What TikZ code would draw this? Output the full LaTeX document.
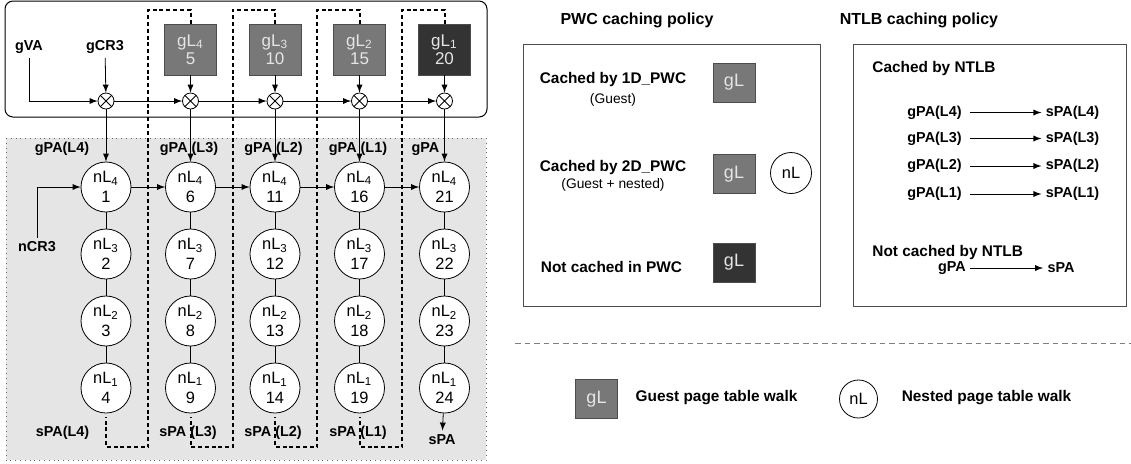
\documentclass[tikz,border=0pt]{standalone}
\usepackage{fontspec}
\setmainfont{Liberation Sans}
\definecolor{regionfill}{gray}{0.9}
\definecolor{gfill}{gray}{0.47}
\definecolor{gdark}{gray}{0.2}
\definecolor{gtext}{gray}{0.9}
\definecolor{panelline}{gray}{0.3}
\begin{document}
\begin{tikzpicture}[x=0.5pt, y=-0.5pt]
	    \tikzset{>=latex}
	    \tikzset{
	      nlev/.style={circle, draw, fill=white, minimum size=25pt, inner sep=0pt, align=center, font=\fontsize{8.2}{10}\selectfont},
	      glev/.style={draw=black!70, fill=gfill, text=gtext, minimum width=26pt, minimum height=25.5pt, inner sep=0pt, align=center, font=\fontsize{8.5}{9.2}\selectfont},
	      gkey/.style={glev, minimum width=21pt, minimum height=19.5pt, font=\fontsize{9}{9}\selectfont},
	      mult/.style={circle, draw, fill=white, minimum size=8pt, inner sep=0pt,
	        path picture={\draw (path picture bounding box.north west) -- (path picture bounding box.south east)
	                            (path picture bounding box.north east) -- (path picture bounding box.south west);}},
	      lbl/.style={font=\bfseries\fontsize{7.2}{8}\selectfont, inner sep=2pt},
	      key/.style={font=\bfseries\fontsize{7.7}{9}\selectfont, inner sep=1pt},
	      note/.style={font=\fontsize{6.9}{8}\selectfont, inner sep=1pt},
	      title/.style={font=\bfseries\fontsize{8}{9}\selectfont},
	      wall/.style={line width=1pt, dash pattern=on 2pt off 1.4pt},
	      panel/.style={draw=panelline, line width=0.5pt}
	    }
	    \useasboundingbox (0,0) rectangle (1131,463);
	    % walk area
	    \filldraw[fill=regionfill, draw=black!60, dotted] (6,138) rectangle (486,460);
	    \draw[rounded corners=4pt, fill=white, line width=0.5pt] (5,1) rectangle (487,117);
	    % guest levels
	    \node[glev] (s5) at (190.5,49.5) {gL\textsubscript{4}\\5};
	    \node[glev] (s10) at (275,49.5) {gL\textsubscript{3}\\10};
	    \node[glev] (s15) at (359.5,49.5) {gL\textsubscript{2}\\15};
	    \node[glev, fill=gdark] (s20) at (444.5,49.5) {gL\textsubscript{1}\\20};
	    \node[mult] (m1) at (106,101) {};
	    \node[mult] (m2) at (190.5,101) {};
	    \node[mult] (m3) at (275,101) {};
	    \node[mult] (m4) at (359.5,101) {};
	    \node[mult] (m5) at (444.5,101) {};
	    \node[lbl] (gva) at (29,47) {gVA};
	    \node[lbl] (gcr) at (105,47) {gCR3};
	    % nested levels
	    \node[nlev] (s1) at (106,187) {nL\textsubscript{4}\\1};
	    \node[nlev] (s2) at (106,254) {nL\textsubscript{3}\\2};
	    \node[nlev] (s3) at (106,321) {nL\textsubscript{2}\\3};
	    \node[nlev] (s4) at (106,388) {nL\textsubscript{1}\\4};
	    \node[nlev] (s6) at (190.5,187) {nL\textsubscript{4}\\6};
	    \node[nlev] (s7) at (190.5,254) {nL\textsubscript{3}\\7};
	    \node[nlev] (s8) at (190.5,321) {nL\textsubscript{2}\\8};
	    \node[nlev] (s9) at (190.5,388) {nL\textsubscript{1}\\9};
	    \node[nlev] (s11) at (275,187) {nL\textsubscript{4}\\11};
	    \node[nlev] (s12) at (275,254) {nL\textsubscript{3}\\12};
	    \node[nlev] (s13) at (275,321) {nL\textsubscript{2}\\13};
	    \node[nlev] (s14) at (275,388) {nL\textsubscript{1}\\14};
	    \node[nlev] (s16) at (359.5,187) {nL\textsubscript{4}\\16};
	    \node[nlev] (s17) at (359.5,254) {nL\textsubscript{3}\\17};
	    \node[nlev] (s18) at (359.5,321) {nL\textsubscript{2}\\18};
	    \node[nlev] (s19) at (359.5,388) {nL\textsubscript{1}\\19};
	    \node[nlev] (s21) at (444.5,187) {nL\textsubscript{4}\\21};
	    \node[nlev] (s22) at (444.5,254) {nL\textsubscript{3}\\22};
	    \node[nlev] (s23) at (444.5,321) {nL\textsubscript{2}\\23};
	    \node[nlev] (s24) at (444.5,388) {nL\textsubscript{1}\\24};
	    \node[lbl] (ncr) at (37,247) {nCR3};
	    \node[lbl] (gpa4) at (62,149) {gPA(L4)};
	    \node[lbl] (gpa3) at (189,149) {gPA (L3)};
	    \node[lbl] (gpa2) at (273.5,149) {gPA (L2)};
	    \node[lbl] (gpa1) at (358,149) {gPA (L1)};
	    \node[lbl] (gpa) at (425.5,149) {gPA};
	    \node[lbl] (spa4) at (62.5,433) {sPA(L4)};
	    \node[lbl] (spa3) at (188,433) {sPA (L3)};
	    \node[lbl] (spa2) at (273,433) {sPA (L2)};
	    \node[lbl] (spa1) at (358,433) {sPA (L1)};
	    \node[lbl] (spa) at (442,440) {sPA};
	    % connectors
	    \draw[->] (gva) |- (m1);
	    \draw[->] (gcr) -- (m1);
	    \draw[->] (m1) -- (m2);
	    \draw[->] (m2) -- (m3);
	    \draw[->] (m3) -- (m4);
	    \draw[->] (m4) -- (m5);
	    \draw[->] (s5) -- (m2);
	    \draw[->] (s10) -- (m3);
	    \draw[->] (s15) -- (m4);
	    \draw[->] (s20) -- (m5);
	    \draw[->] (m1) -- (s1);
	    \draw[->] (m2) -- (s6);
	    \draw[->] (m3) -- (s11);
	    \draw[->] (m4) -- (s16);
	    \draw[->] (m5) -- (s21);
	    \draw[->] (ncr) |- (s1);
	    \draw[->] (s1) -- (s6);
	    \draw[->] (s6) -- (s11);
	    \draw[->] (s11) -- (s16);
	    \draw[->] (s16) -- (s21);
	    \draw (s1) -- (s2) -- (s3) -- (s4);
	    \draw (s6) -- (s7) -- (s8) -- (s9);
	    \draw (s11) -- (s12) -- (s13) -- (s14);
	    \draw (s16) -- (s17) -- (s18) -- (s19);
	    \draw (s21) -- (s22) -- (s23) -- (s24);
	    \draw[->] (s24) -- (spa);
	    \draw[wall] (s5.north) |- (148,10) -- (148,447) -| ([yshift=-2pt]s4.south);
	    \draw[wall] (s10.north) |- (232.5,10) -- (232.5,447) -| ([yshift=-2pt]s9.south);
	    \draw[wall] (s15.north) |- (317,10) -- (317,447) -| ([yshift=-2pt]s14.south);
	    \draw[wall] (s20.north) |- (402,10) -- (402,447) -| ([yshift=-2pt]s19.south);
	    % PWC policy
	    \node[title] (pwct) at (637,20) {PWC caching policy};
	    \draw[panel] (523,44) rectangle (820,306);
	    \node[key] (c1d) at (613,80) {Cached by 1D\_PWC};
	    \node[note] (c1dn) at (613,99.5) {(Guest)};
	    \node[gkey] (pg1) at (734,82.5) {gL};
	    \node[key] (c2d) at (613,168) {Cached by 2D\_PWC};
	    \node[note] (c2dn) at (613,185) {(Guest + nested)};
	    \node[gkey] (pg2) at (734,174) {gL};
	    \node[nlev, minimum size=20.5pt] (pn2) at (791,173) {nL};
	    \node[key] (nc) at (611.5,267) {Not cached in PWC};
	    \node[gkey, fill=gdark] (pg3) at (734,262.5) {gL};
	    % NTLB policy
	    \node[title] (ntlbt) at (919,20) {NTLB caching policy};
	    \draw[panel] (853,44) rectangle (1126,306);
	    \node[key, anchor=west] (cn) at (870,69) {Cached by NTLB};
	    \node[lbl] (g4) at (934.5,112.5) {gPA(L4)};
	    \node[lbl] (p4) at (1072.5,112.5) {sPA(L4)};
	    \node[lbl] (g3) at (934.5,138.5) {gPA(L3)};
	    \node[lbl] (p3) at (1072.5,138.5) {sPA(L3)};
	    \node[lbl] (g2) at (934.5,166) {gPA(L2)};
	    \node[lbl] (p2) at (1072.5,166) {sPA(L2)};
	    \node[lbl] (g1) at (934.5,194) {gPA(L1)};
	    \node[lbl] (p1) at (1072.5,194) {sPA(L1)};
	    \draw[->, shorten <=2pt] (g4) -- (p4);
	    \draw[->, shorten <=2pt] (g3) -- (p3);
	    \draw[->, shorten <=2pt] (g2) -- (p2);
	    \draw[->, shorten <=2pt] (g1) -- (p1);
	    \node[key, anchor=west] (ncn) at (870,252.5) {Not cached by NTLB};
	    \node[lbl] (g0) at (952,268) {gPA};
	    \node[lbl] (p0) at (1061,268) {sPA};
	    \draw[->] (g0) -- (p0);
	    % legend
	    \draw[gray, dash pattern=on 2.8pt off 2pt] (515,343) -- (1131,343);
	    \node[gkey] (lg) at (596.5,399) {gL};
	    \node[key] (lgt) at (716.5,398) {Guest page table walk};
	    \node[nlev, minimum size=19pt] (ln) at (858.5,399) {nL};
	    \node[key] (lnt) at (986.5,398) {Nested page table walk};
	\end{tikzpicture}
\end{document}
